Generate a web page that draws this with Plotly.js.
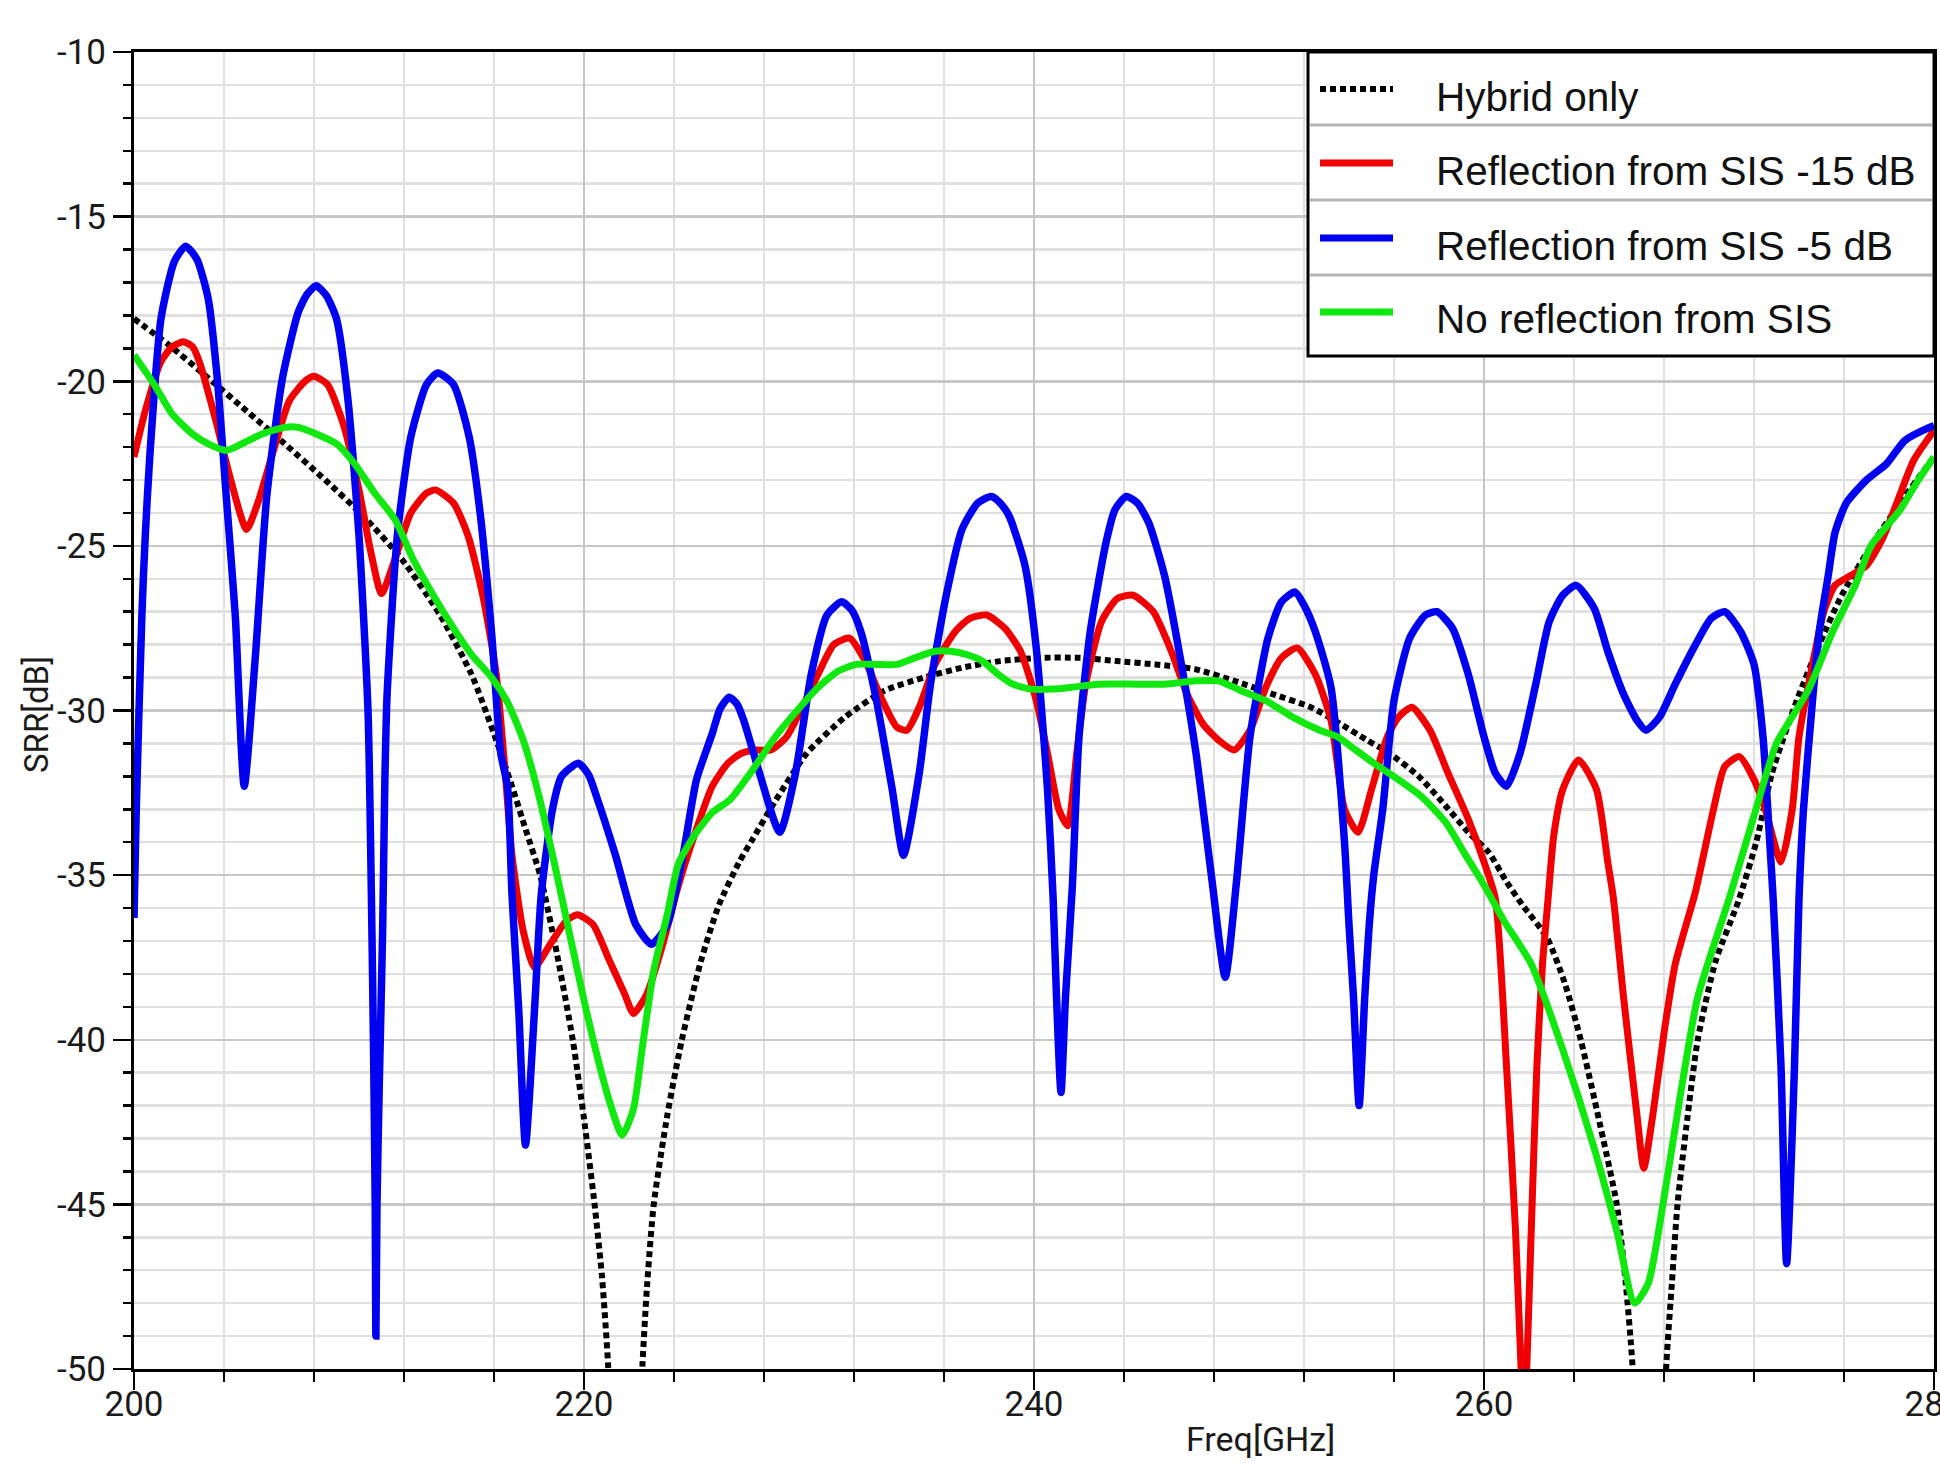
<!DOCTYPE html>
<html>
<head>
<meta charset="utf-8">
<script src="https://cdn.plot.ly/plotly-3.0.1.min.js"></script>
<style>
  html, body { margin: 0; padding: 0; background: #ffffff; }
  #chart { width: 1940px; height: 1463px; }
</style>
</head>
<body>
<div id="chart"></div>
<script>
// ---------------- data ----------------
const seriesNames = ["Hybrid only", "Reflection from SIS -15 dB", "Reflection from SIS -5 dB", "No reflection from SIS"];

const freqHybrid = [200.0,201.55,203.3,205.0,206.7,208.5,210.2,211.9,213.6,215.0,216.1,216.8,217.4,218.05,218.8,219.5,220.0,220.47,220.8,221.07,221.85,222.6,222.8,223.1,223.7,224.35,225.2,226.0,226.9,227.5,228.5,229.9,231.6,233.35,235.1,236.8,238.5,240.3,242.0,243.7,245.4,247.2,248.9,250.6,252.3,253.6,254.8,255.8,257.1,258.3,259.3,260.2,261.0,261.7,262.8,263.6,264.3,265.1,265.9,266.3,266.6,267.35,268.1,268.35,268.6,269.0,269.5,270.3,271.3,272.1,272.8,273.9,274.9,275.9,277.3,278.7,280.0];
const srrHybrid  = [-18.1,-18.9,-19.9,-20.9,-21.9,-23.0,-24.1,-25.4,-27.1,-28.9,-30.9,-32.3,-33.6,-35.0,-37.4,-40.0,-42.4,-45.0,-47.2,-49.85,-62,-49.85,-47.5,-45.0,-42.3,-40.0,-37.6,-35.9,-34.6,-33.9,-32.75,-31.3,-30.2,-29.4,-29.0,-28.7,-28.5,-28.4,-28.4,-28.5,-28.6,-28.75,-29.1,-29.5,-29.9,-30.4,-30.9,-31.3,-32.0,-32.9,-33.7,-34.3,-35.2,-35.9,-36.9,-38.3,-40.0,-42.4,-45.0,-47.4,-49.9,-62,-49.9,-47.4,-45.0,-42.6,-40.0,-37.6,-35.8,-34.0,-31.9,-29.7,-28.0,-26.5,-24.9,-23.5,-22.3];

const freqRefl15 = [200.0,200.5,201.2,201.7,202.2,202.6,202.9,203.6,204.3,205.0,205.5,206.2,206.9,207.6,208.0,208.6,209.3,210.0,210.5,211.0,211.6,212.3,213.0,213.4,214.2,214.85,215.5,216.1,216.5,216.8,217.3,217.8,218.5,219.2,219.7,220.4,221.1,221.8,222.2,222.8,223.5,224.2,224.9,225.7,226.4,227.0,227.65,228.3,229.0,229.7,230.4,231.1,231.8,232.5,233.2,233.9,234.35,234.9,235.6,236.5,237.15,237.9,238.7,239.4,240.1,240.6,241.1,241.5,241.9,242.3,243.0,243.7,244.4,245.3,246.1,246.8,247.5,248.2,248.9,249.6,250.3,251.0,251.7,252.5,253.2,253.8,254.4,255.0,255.7,256.2,256.8,257.6,258.4,259.3,260.0,260.5,261.0,261.4,261.65,261.78,261.9,262.1,262.35,262.6,262.85,263.1,263.5,264.2,265.0,265.5,265.75,266.2,266.8,267.1,267.5,268.0,268.5,269.4,270.2,270.7,271.35,272.0,272.5,273.2,273.7,274.0,274.6,275.1,275.6,276.3,277.0,277.7,278.4,279.1,280.0];
const srrRefl15  = [-22.3,-20.9,-19.4,-18.95,-18.8,-18.95,-19.4,-21.1,-23.0,-24.5,-23.7,-22.1,-20.6,-20.0,-19.85,-20.1,-21.3,-23.3,-25.1,-26.45,-25.4,-24.0,-23.4,-23.3,-23.7,-24.7,-26.5,-28.9,-31.9,-34.4,-36.7,-37.8,-37.1,-36.4,-36.2,-36.5,-37.55,-38.6,-39.2,-38.6,-37.1,-35.3,-33.8,-32.3,-31.6,-31.3,-31.2,-31.2,-30.8,-29.9,-28.9,-28.0,-27.8,-28.5,-29.6,-30.5,-30.6,-29.9,-28.6,-27.6,-27.2,-27.1,-27.5,-28.2,-29.7,-31.3,-33.0,-33.5,-31.3,-29.2,-27.3,-26.6,-26.5,-27.0,-28.2,-29.5,-30.4,-30.9,-31.2,-30.6,-29.3,-28.4,-28.1,-28.9,-30.3,-33.0,-33.7,-32.4,-30.8,-30.2,-29.9,-30.6,-31.9,-33.3,-34.6,-35.7,-40.8,-45.8,-50.0,-52.0,-50.0,-45.8,-40.8,-37.7,-35.7,-33.8,-32.4,-31.5,-32.4,-34.6,-35.7,-38.7,-42.3,-43.9,-42.3,-39.8,-37.7,-35.5,-33.0,-31.7,-31.4,-32.1,-33.0,-34.6,-33.0,-30.8,-28.6,-27.0,-26.2,-25.9,-25.6,-24.8,-23.6,-22.4,-21.5];

const freqRefl5 = [200.0,200.1,200.35,200.5,200.7,201.2,201.8,202.3,202.8,203.3,203.7,204.1,204.5,204.9,205.4,205.9,206.6,207.3,207.7,208.1,208.55,209.0,209.5,210.0,210.4,210.55,210.65,210.72,210.75,210.8,210.9,211.05,211.15,211.25,211.7,212.3,213.0,213.5,214.2,214.9,215.4,215.9,216.3,216.6,216.8,217.1,217.4,217.8,218.1,218.6,219.0,219.75,220.2,220.6,221.4,222.3,223.0,223.7,224.4,225.0,225.7,226.05,226.45,226.8,227.1,227.8,228.7,229.4,230.1,230.8,231.45,231.9,232.3,233.0,233.7,234.2,234.9,235.4,236.1,236.8,237.5,238.1,238.5,238.9,239.6,240.1,240.6,240.85,241.0,241.2,241.4,241.7,242.0,242.5,243.2,243.6,244.1,244.6,245.1,245.8,246.5,247.2,247.9,248.5,249.0,249.6,250.4,251.0,251.6,252.0,252.5,253.2,253.8,254.0,254.2,254.45,254.7,254.9,255.1,255.5,256.0,256.7,257.4,257.9,258.6,259.3,260.0,260.5,261.0,261.6,262.3,262.9,263.5,264.1,264.9,265.5,266.2,266.8,267.2,267.8,268.5,269.4,270.1,270.7,271.4,272.0,272.4,272.7,272.85,273.2,273.45,273.8,274.0,274.2,274.6,274.9,275.3,275.6,276.1,277.0,277.9,278.7,279.8,280.0];
const srrRefl5  = [-36.3,-33.0,-27.1,-24.7,-22.3,-18.1,-16.35,-15.9,-16.3,-17.5,-19.9,-23.5,-27.1,-32.3,-28.3,-23.5,-19.9,-17.9,-17.35,-17.1,-17.4,-18.1,-20.5,-24.7,-30.0,-35.6,-40.5,-45.0,-49.0,-45.0,-41.4,-36.7,-32.1,-29.5,-24.7,-21.7,-20.1,-19.75,-20.1,-21.7,-24.1,-27.7,-31.3,-32.3,-35.6,-39.1,-43.2,-39.1,-35.6,-33.0,-32.0,-31.6,-31.95,-32.7,-34.4,-36.5,-37.1,-36.5,-34.4,-32.1,-30.7,-29.95,-29.6,-29.8,-30.3,-31.9,-33.7,-31.9,-28.9,-27.1,-26.7,-26.95,-27.6,-29.7,-32.4,-34.4,-31.9,-29.2,-26.5,-24.5,-23.7,-23.5,-23.7,-24.1,-25.6,-28.1,-32.4,-35.7,-38.7,-41.6,-38.7,-35.4,-30.8,-27.6,-24.9,-23.9,-23.5,-23.7,-24.3,-25.9,-28.4,-31.3,-35.1,-38.1,-35.2,-30.8,-27.8,-26.7,-26.4,-26.8,-27.6,-29.3,-34.0,-36.5,-38.7,-42.0,-38.7,-36.5,-35.0,-33.0,-29.7,-27.8,-27.1,-27.0,-27.5,-28.9,-30.8,-31.9,-32.3,-31.3,-29.2,-27.3,-26.5,-26.2,-26.9,-28.2,-29.5,-30.3,-30.6,-30.2,-29.2,-28.0,-27.2,-27.0,-27.6,-28.6,-30.8,-34.0,-35.7,-40.8,-46.8,-40.8,-35.7,-33.0,-29.7,-27.6,-25.9,-24.6,-23.7,-23.0,-22.5,-21.8,-21.4,-21.35];

const freqNoRefl = [200.0,200.9,201.7,202.6,203.3,204.1,204.8,205.7,206.7,207.3,208.1,209.0,209.8,210.7,211.6,212.4,213.3,214.2,215.0,215.9,216.6,217.3,218.0,218.8,219.3,220.0,220.55,221.1,221.7,222.2,222.6,223.1,223.7,224.2,224.9,225.7,226.5,227.5,228.5,229.6,230.4,231.3,232.1,233.0,233.9,234.7,235.6,236.3,237.0,237.7,238.4,239.05,239.9,240.8,241.6,242.85,244.6,245.8,247.2,248.2,249.2,250.3,251.5,252.7,253.5,254.1,255.1,256.2,257.2,258.3,259.1,260.0,260.9,262.1,263.5,264.9,265.9,266.7,267.3,268.0,268.7,269.5,270.9,272.0,273.0,274.4,275.5,276.5,277.2,278.5,279.3,280.0];
const srrNoRefl  = [-19.2,-20.1,-21.0,-21.6,-21.9,-22.1,-21.9,-21.6,-21.4,-21.4,-21.6,-21.9,-22.5,-23.4,-24.2,-25.4,-26.5,-27.5,-28.3,-29.0,-29.75,-30.9,-32.6,-35.0,-36.6,-38.8,-40.4,-41.8,-42.9,-42.1,-40.2,-37.9,-36.2,-34.65,-33.8,-33.1,-32.7,-31.8,-30.8,-29.9,-29.3,-28.8,-28.6,-28.6,-28.6,-28.4,-28.2,-28.2,-28.3,-28.5,-28.9,-29.2,-29.35,-29.35,-29.3,-29.2,-29.2,-29.2,-29.1,-29.1,-29.4,-29.7,-30.2,-30.6,-30.8,-31.1,-31.6,-32.1,-32.6,-33.4,-34.3,-35.3,-36.4,-37.7,-40.3,-43.3,-45.8,-48.0,-47.4,-44.8,-41.8,-38.7,-35.7,-33.2,-31.0,-29.4,-27.6,-26.2,-25.0,-23.9,-23.0,-22.3];

const xTickVals = [200, 220, 240, 260, 280];
const xTickText = ["200", "220", "240", "260", "280"];
const yTickVals = [-50, -45, -40, -35, -30, -25, -20, -15, -10];
const yTickText = ["-50", "-45", "-40", "-35", "-30", "-25", "-20", "-15", "-10"];
const xTitle = "Freq[GHz]";
const yTitle = "SRR[dB]";

// ---------------- styles ----------------
const colors = ["#000000", "#f00000", "#0000f0", "#10e810"];
const widths = [6, 7, 7.5, 7];
const dashes = ["6px,4px", "solid", "solid", "solid"];
const xs = [freqHybrid, freqRefl15, freqRefl5, freqNoRefl];
const ys = [srrHybrid, srrRefl15, srrRefl5, srrNoRefl];

const traces = [0, 1, 2, 3].map(i => ({
  type: "scatter",
  mode: "lines",
  name: seriesNames[i],
  x: xs[i],
  y: ys[i],
  line: { color: colors[i], width: widths[i], dash: dashes[i], shape: "spline", smoothing: 0.6 },
  showlegend: false,
  hoverinfo: "skip"
}));

// plot area in pixels (for converting legend box to paper fractions)
const W = 1940, H = 1463;
const L = 134, R = 1934, T = 52, B = 1369;
const px = X => (X - L) / (R - L);
const py = Y => (B - Y) / (B - T);

// custom legend (box, separators, samples, labels)
const legBox = { x0: 1308, x1: 1934, y0: 52, y1: 356 };
const legSeps = [125, 200, 275];
const legSampleY = [89, 163, 238, 312];
const legTextY = [97, 171, 246, 319];
const shapes = [
  { type: "rect", xref: "paper", yref: "paper", x0: px(legBox.x0), x1: px(legBox.x1), y0: py(legBox.y1), y1: py(legBox.y0),
    fillcolor: "#ffffff", line: { color: "#000000", width: 3 }, layer: "above" }
];
legSeps.forEach(Y => shapes.push({ type: "line", xref: "paper", yref: "paper", x0: px(legBox.x0 + 2), x1: px(legBox.x1 - 2), y0: py(Y), y1: py(Y),
  line: { color: "#b4b4b4", width: 3 }, layer: "above" }));
legSampleY.forEach((Y, i) => shapes.push({ type: "line", xref: "paper", yref: "paper", x0: px(1320), x1: px(1393), y0: py(Y), y1: py(Y),
  line: { color: colors[i], width: i === 0 ? 6 : 7, dash: dashes[i] }, layer: "above" }));

const annotations = seriesNames.map((t, i) => ({
  text: t, xref: "paper", yref: "paper", x: px(1434), y: py(legTextY[i]), xanchor: "left", yanchor: "middle",
  showarrow: false, font: { family: "Liberation Sans, Arial, sans-serif", size: 40.5, color: "#111111" }
}));
annotations.push({ text: xTitle, xref: "paper", yref: "paper", x: px(1260), y: py(1439), xanchor: "center", yanchor: "middle",
  showarrow: false, font: { family: "Roboto, sans-serif", size: 34, color: "#1a1a1a" } });
annotations.push({ text: yTitle, xref: "paper", yref: "paper", x: px(36), y: py(715), xanchor: "center", yanchor: "middle",
  textangle: -90, showarrow: false, font: { family: "Roboto, sans-serif", size: 33, color: "#1a1a1a" } });

const layout = {
  width: W, height: H,
  margin: { l: L, r: W - R, t: T, b: H - B, pad: 0 },
  paper_bgcolor: "#ffffff",
  plot_bgcolor: "#ffffff",
  showlegend: false,
  xaxis: {
    range: [200, 280], tickmode: "array", tickvals: xTickVals, ticktext: xTickText,
    ticks: "outside", ticklen: 18, tickwidth: 2.5, tickcolor: "#000000",
    showline: true, linecolor: "#000000", linewidth: 3, mirror: true,
    showgrid: true, gridcolor: "#c6c6c6", gridwidth: 2.5, zeroline: false,
    tickfont: { family: "Roboto, sans-serif", size: 35, color: "#1a1a1a" },
    ticklabelstandoff: -16,
    ticklabeloverflow: "allow",
    minor: { tickmode: "linear", tick0: 200, dtick: 4, ticks: "outside", ticklen: 10, tickwidth: 2.5, tickcolor: "#000000",
             showgrid: true, gridcolor: "#e0e0e0", gridwidth: 2.5 }
  },
  yaxis: {
    range: [-50, -10], tickmode: "array", tickvals: yTickVals, ticktext: yTickText,
    ticks: "outside", ticklen: 18, tickwidth: 2.5, tickcolor: "#000000",
    showline: true, linecolor: "#000000", linewidth: 3, mirror: true,
    showgrid: true, gridcolor: "#c6c6c6", gridwidth: 2.5, zeroline: false,
    tickfont: { family: "Roboto, sans-serif", size: 35, color: "#1a1a1a" },
    ticklabelstandoff: 0,
    ticklabeloverflow: "allow",
    minor: { tickmode: "linear", tick0: -50, dtick: 1, ticks: "outside", ticklen: 8, tickwidth: 2.5, tickcolor: "#000000",
             showgrid: true, gridcolor: "#e0e0e0", gridwidth: 2.5 }
  },
  shapes: shapes,
  annotations: annotations
};

Plotly.newPlot("chart", traces, layout, { displayModeBar: false, staticPlot: true });
</script>
</body>
</html>
